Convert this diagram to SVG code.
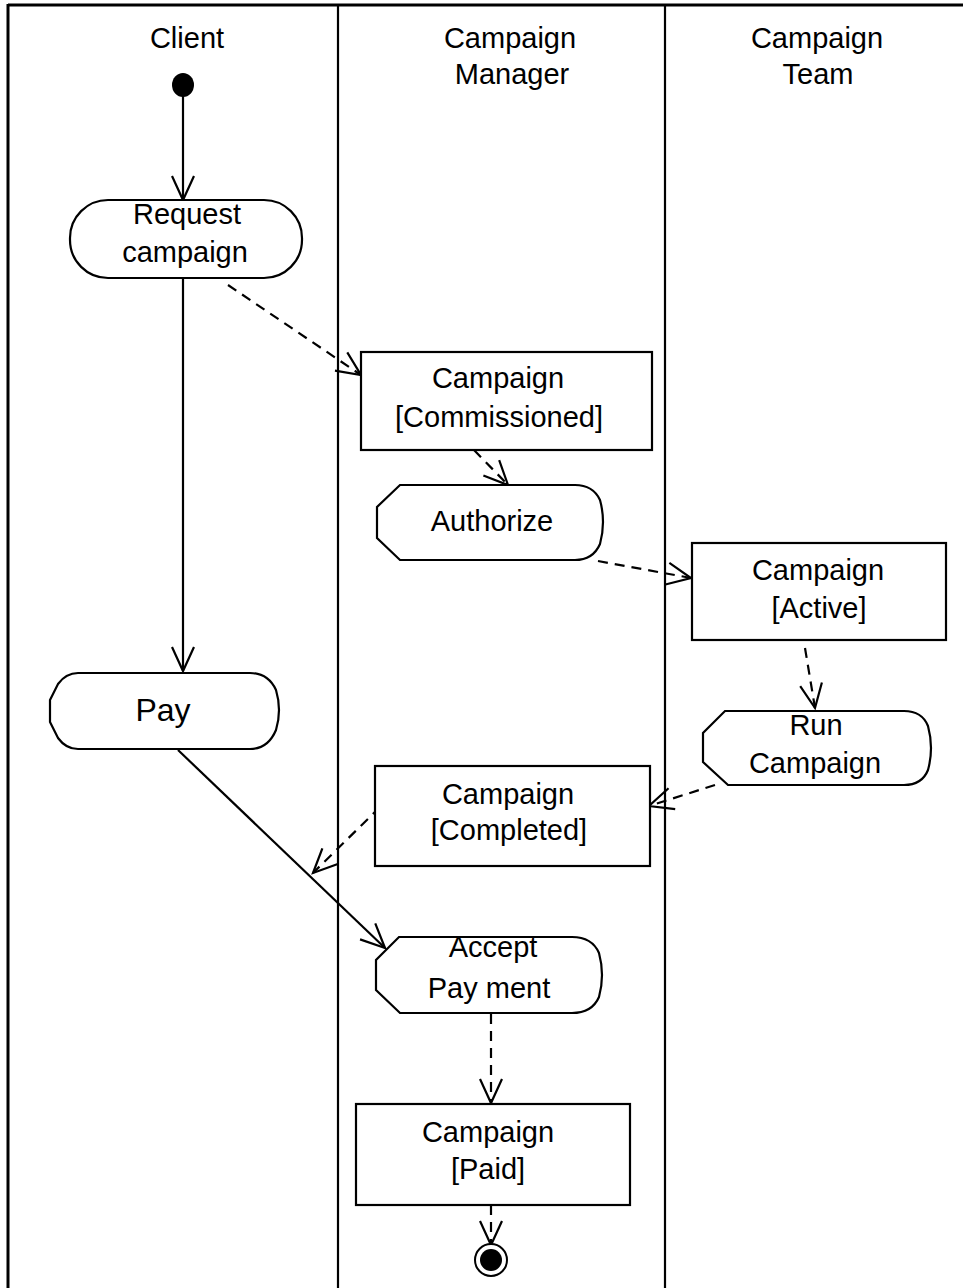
<svg xmlns="http://www.w3.org/2000/svg" width="963" height="1288" viewBox="0 0 963 1288">
<style>
text{font-family:"Liberation Sans",Arial,sans-serif;font-size:29px;fill:#000;text-anchor:middle}
.hd{font-size:29px}
.nd{fill:#fff;stroke:#000;stroke-width:2.2}
.ln{fill:none;stroke:#000;stroke-width:2.2}
.ds{fill:none;stroke:#000;stroke-width:2.2;stroke-dasharray:10 7}
.fr{fill:none;stroke:#000;stroke-width:2.2}
</style>
<defs>
<marker id="ah" markerUnits="userSpaceOnUse" markerWidth="30" markerHeight="30" viewBox="-26 -15 30 30" refX="0" refY="0" orient="auto">
<path d="M-24,-11 L0,0 L-24,11" fill="none" stroke="#000" stroke-width="2.2"/>
</marker>
</defs>
<rect width="963" height="1288" fill="#fff"/>
<g id="frame">
<line class="fr" x1="8" y1="5" x2="963" y2="5" style="stroke-width:3"/>
<line class="fr" x1="8" y1="4" x2="8" y2="1288" style="stroke-width:3"/>
<line class="fr" x1="338" y1="4" x2="338" y2="1288"/>
<line class="fr" x1="665" y1="4" x2="665" y2="1288"/>
<text class="hd" x="187" y="48">Client</text>
<text class="hd" x="510" y="48">Campaign</text>
<text class="hd" x="512" y="84">Manager</text>
<text class="hd" x="817" y="48">Campaign</text>
<text class="hd" x="818" y="84">Team</text>
</g>
<g id="connectors">
<line class="ln" x1="183" y1="96" x2="183" y2="200" marker-end="url(#ah)"/>
<line class="ln" x1="183" y1="278" x2="183" y2="671" marker-end="url(#ah)"/>
<line class="ds" x1="228" y1="285" x2="361" y2="375" marker-end="url(#ah)"/>
<line class="ds" x1="474" y1="450" x2="508" y2="485" marker-end="url(#ah)"/>
<line class="ds" x1="598" y1="561" x2="691" y2="578" marker-end="url(#ah)"/>
<line class="ds" x1="805" y1="648" x2="815" y2="708" marker-end="url(#ah)"/>
<line class="ds" x1="715" y1="785" x2="649" y2="806" marker-end="url(#ah)"/>
<line class="ds" x1="380" y1="807" x2="313" y2="873" marker-end="url(#ah)"/>
<line class="ln" x1="178" y1="750" x2="385" y2="948" marker-end="url(#ah)"/>
<line class="ds" x1="491" y1="1014" x2="491" y2="1103" marker-end="url(#ah)"/>
<line class="ds" x1="491" y1="1205" x2="491" y2="1245" marker-end="url(#ah)"/>
</g>
<g id="start"><ellipse cx="183" cy="85" rx="11" ry="12" fill="#000"/></g>
<g id="request-campaign">
<rect class="nd" x="70" y="200" width="232" height="78" rx="38"/>
<text x="187" y="224">Request</text>
<text x="185" y="262">campaign</text>
</g>
<g id="pay">
<path class="nd" d="M78,673 H250 Q268,673 276,690 Q282,710 276,730 Q268,749 250,749 H78 Q66,749 58,738 L50,722 V700 L58,684 Q66,673 78,673 Z"/>
<text x="163" y="721" style="font-size:32px">Pay</text>
</g>
<g id="campaign-commissioned">
<rect class="nd" x="361" y="352" width="291" height="98"/>
<text x="498" y="388">Campaign</text>
<text x="499" y="427">[Commissioned]</text>
</g>
<g id="authorize">
<path class="nd" d="M400,485 H575 Q593,485 600,500 Q606,522 600,544 Q593,560 575,560 H400 L377,538 V507 Z"/>
<text x="492" y="531">Authorize</text>
</g>
<g id="campaign-active">
<rect class="nd" x="692" y="543" width="254" height="97"/>
<text x="818" y="580">Campaign</text>
<text x="819" y="618">[Active]</text>
</g>
<g id="run-campaign">
<path class="nd" d="M725,711 H904 Q922,711 928,726 Q934,748 928,770 Q922,785 904,785 H728 L703,762 V733 Z"/>
<text x="816" y="735">Run</text>
<text x="815" y="773">Campaign</text>
</g>
<g id="campaign-completed">
<rect class="nd" x="375" y="766" width="275" height="100"/>
<text x="508" y="804">Campaign</text>
<text x="509" y="840">[Completed]</text>
</g>
<g id="accept-payment">
<path class="nd" d="M399,937 H572 Q592,937 599,953 Q605,975 599,997 Q592,1013 572,1013 H400 L376,990 V960 Z"/>
<text x="493" y="957">Accept</text>
<text x="489" y="998">Pay ment</text>
</g>
<g id="campaign-paid">
<rect class="nd" x="356" y="1104" width="274" height="101"/>
<text x="488" y="1142">Campaign</text>
<text x="488" y="1179">[Paid]</text>
</g>
<g id="end">
<circle cx="491" cy="1260" r="16" fill="#fff" stroke="#000" stroke-width="2"/>
<circle cx="491" cy="1260" r="11" fill="#000"/>
</g>
</svg>
